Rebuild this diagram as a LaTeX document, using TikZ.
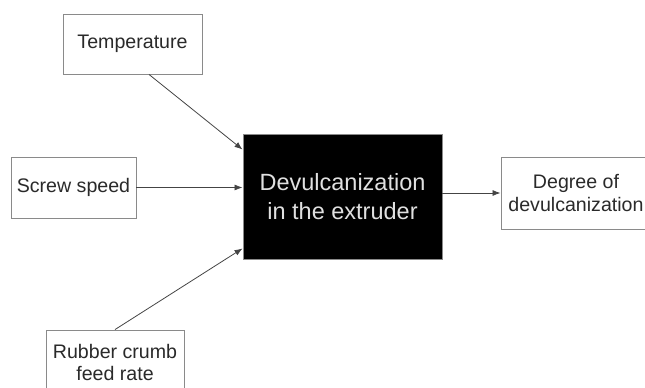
\documentclass[tikz,border=0pt]{standalone}
\usepackage{fontspec}
\setmainfont{Liberation Sans}
\usetikzlibrary{arrows.meta}

\definecolor{boxline}{HTML}{8A8A8A}
\definecolor{arrowline}{HTML}{444444}
\definecolor{inktext}{HTML}{2A2A2A}

\begin{document}
\begin{tikzpicture}[x=1pt, y=1pt,
    factor/.style={draw=boxline, line width=0.9pt, fill=white, text=inktext,
        align=center, inner sep=0pt, font=\fontsize{19.6}{22.5}\selectfont},
    process/.style={draw=boxline, line width=0.9pt, fill=black, text=white!88!black,
        align=center, inner sep=0pt, font=\fontsize{23.5}{29}\selectfont},
    flow/.style={draw=arrowline, line width=0.8pt, -{Latex[length=8pt, width=6pt]}}]
    \useasboundingbox (0,0) rectangle (645,388);

    \node[factor, minimum width=139pt, minimum height=60pt] (temp) at (132.5, 344) {Temperature};

    \node[factor, minimum width=125pt, minimum height=61pt] (screw) at (73.5, 200.5) {Screw speed};

    \node[factor, minimum width=138pt, minimum height=65pt] (feed) at (115, 25.5) {Rubber crumb\\feed rate};

    \node[process, minimum width=199pt, minimum height=125pt] (extruder) at (342.5, 191.5) {Devulcanization\\in the extruder};

    \node[factor, minimum width=150pt, minimum height=72pt] (degree) at (576, 195) {Degree of\\ devulcanization};

    % inputs into the extruder
    \draw[flow] ([xshift=16.5pt]temp.south) -- ([yshift=-16pt]extruder.north west);
    \draw[flow] (screw.east) -- (extruder.west |- screw.east);
    \draw[flow] (feed.north) -- ([yshift=11pt]extruder.south west);

    \draw[flow] (extruder.east |- degree.west) -- (degree.west);
\end{tikzpicture}
\end{document}
